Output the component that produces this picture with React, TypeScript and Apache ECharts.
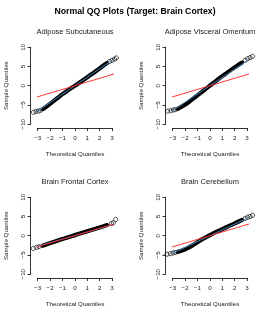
import React, { useEffect, useRef } from "react";
import * as echarts from "echarts";

// ---------- data ----------
const MAIN_TITLE = "Normal QQ Plots (Target: Brain Cortex)";
const PANEL_TITLES = [
  "Adipose Subcutaneous",
  "Adipose Visceral Omentum",
  "Brain Frontal Cortex",
  "Brain Cerebellum",
];
const X_AXIS_NAME = "Theoretical Quantiles";
const Y_AXIS_NAME = "Sample Quantiles";

// theoretical quantiles of the dense central band of points
const BAND_X = [-2.6, -2.2, -1.8, -1.4, -1.0, -0.6, -0.2, 0.2, 0.6, 1.0, 1.4, 1.8, 2.2, 2.6];
// sample quantiles of the band, per panel
const BAND_Y_SUBCUT = [-6.1, -5.2, -4.2, -3.2, -2.2, -1.3, -0.4, 0.4, 1.3, 2.2, 3.1, 4.0, 5.0, 5.9];
const BAND_Y_OMENTUM = [-6.0, -5.3, -4.5, -3.5, -2.5, -1.5, -0.5, 0.5, 1.5, 2.5, 3.4, 4.3, 5.2, 6.0];
const BAND_Y_FRONTAL = [-2.6, -2.15, -1.7, -1.3, -0.85, -0.45, -0.05, 0.35, 0.75, 1.15, 1.55, 1.95, 2.35, 2.75];
const BAND_Y_CEREBELLUM = [-4.2, -3.8, -3.2, -2.5, -1.7, -0.9, -0.2, 0.5, 1.1, 1.7, 2.3, 2.9, 3.5, 4.1];

// separate tail points (open circles)
const TAIL_X_SUBCUT = [-3.35, -3.15, -2.95, -2.78, 2.8, 3.0, 3.2, 3.35];
const TAIL_Y_SUBCUT = [-6.9, -6.7, -6.6, -6.4, 6.3, 6.6, 6.9, 7.2];
const TAIL_X_OMENTUM = [-3.4, -3.15, -2.95, -2.78, 2.85, 3.05, 3.25, 3.45];
const TAIL_Y_OMENTUM = [-6.6, -6.5, -6.3, -6.2, 6.6, 7.0, 7.3, 7.6];
const TAIL_X_FRONTAL = [-3.35, -3.1, -2.9, 2.95, 3.1, 3.3];
const TAIL_Y_FRONTAL = [-3.3, -3.05, -2.85, 3.15, 3.35, 4.2];
const TAIL_X_CEREBELLUM = [-3.45, -3.2, -2.98, -2.8, 2.85, 3.05, 3.25, 3.45];
const TAIL_Y_CEREBELLUM = [-4.8, -4.65, -4.5, -4.35, 4.5, 4.8, 5.0, 5.3];

// qq lines: blue = panel's own line, red = target (Brain Cortex) line
const BLUE_SLOPE = [2.2, 2.15, 0.92, 1.51];
const BLUE_INTERCEPT = [0, 0, 0.05, 0];
const RED_SLOPE = 0.96;
const RED_INTERCEPT = 0;
const LINE_X_RANGE = [-3.58, 3.58];

const X_MIN = -3, X_MAX = 3, X_STEP = 1;
const Y_MIN = -10, Y_MAX = 10, Y_STEP = 5;

const BAND_Y = [BAND_Y_SUBCUT, BAND_Y_OMENTUM, BAND_Y_FRONTAL, BAND_Y_CEREBELLUM];
const TAIL_X = [TAIL_X_SUBCUT, TAIL_X_OMENTUM, TAIL_X_FRONTAL, TAIL_X_CEREBELLUM];
const TAIL_Y = [TAIL_Y_SUBCUT, TAIL_Y_OMENTUM, TAIL_Y_FRONTAL, TAIL_Y_CEREBELLUM];

// ---------- layout ----------
const FONT = "'Liberation Sans', Arial, Helvetica, sans-serif";
const DX = [0, 135, 0, 135];
const DY = [0, 0, 150, 150];
const TEXT = "#1a1a1a";

const minus = (v: number) => String(v).replace("-", "\u2212");

export default function App() {
  const ref = useRef<HTMLDivElement>(null);
  useEffect(() => {
    document.body.style.margin = "0";
    if (!ref.current) return;
    const chart = echarts.init(ref.current, null, { renderer: "svg" });

    const grid: any[] = [];
    const xAxis: any[] = [];
    const yAxis: any[] = [];
    const series: any[] = [];
    const graphic: any[] = [];

    graphic.push({
      type: "text",
      x: 135,
      y: 11,
      style: {
        text: MAIN_TITLE,
        font: `bold 8.7px ${FONT}`,
        fill: "#000",
        textAlign: "center",
        textVerticalAlign: "middle",
      },
    });

    PANEL_TITLES.forEach((title, i) => {
      const dx = DX[i], dy = DY[i];
      grid.push({ left: 37.7 + dx, top: 47.2 + dy, width: 74.3, height: 77 });
      const axisLine = { show: true, onZero: false, lineStyle: { color: "#000", width: 0.8 } };
      const axisTick = { show: true, length: 3, lineStyle: { color: "#000", width: 0.8 } };
      xAxis.push({
        gridIndex: i,
        type: "value",
        min: X_MIN,
        max: X_MAX,
        interval: X_STEP,
        offset: 3.8,
        axisLine,
        axisTick,
        splitLine: { show: false },
        axisLabel: {
          fontSize: 6.2,
          fontFamily: FONT,
          color: TEXT,
          margin: 6,
          showMinLabel: true,
          showMaxLabel: true,
          formatter: (v: number) => minus(v),
        },
      });
      yAxis.push({
        gridIndex: i,
        type: "value",
        min: Y_MIN,
        max: Y_MAX,
        interval: Y_STEP,
        offset: 7.2,
        axisLine,
        axisTick,
        splitLine: { show: false },
        axisLabel: {
          rotate: 90,
          fontSize: 6.2,
          fontFamily: FONT,
          color: TEXT,
          margin: 5,
          showMinLabel: true,
          showMaxLabel: true,
          formatter: (v: number) => minus(v),
        },
      });

      // dense band of points
      series.push({
        type: "line",
        xAxisIndex: i,
        yAxisIndex: i,
        data: BAND_X.map((x, k) => [x, BAND_Y[i][k]]),
        symbol: "none",
        smooth: 0.3,
        clip: false,
        silent: true,
        lineStyle: { color: "#000", width: 4.2, cap: "round", join: "round" },
        z: 2,
      });
      // tail points
      series.push({
        type: "scatter",
        xAxisIndex: i,
        yAxisIndex: i,
        data: TAIL_X[i].map((x, k) => [x, TAIL_Y[i][k]]),
        symbol: "circle",
        symbolSize: 4.2,
        clip: false,
        silent: true,
        itemStyle: { color: "rgba(255,255,255,0)", borderColor: "#000", borderWidth: 0.7, opacity: 1 },
        z: 2,
      });
      // blue qq line
      series.push({
        type: "line",
        xAxisIndex: i,
        yAxisIndex: i,
        data: LINE_X_RANGE.map((x) => [x, BLUE_INTERCEPT[i] + BLUE_SLOPE[i] * x]),
        symbol: "none",
        clip: false,
        silent: true,
        lineStyle: { color: "#4682B4", width: 1 },
        z: 3,
      });
      // red target line
      series.push({
        type: "line",
        xAxisIndex: i,
        yAxisIndex: i,
        data: LINE_X_RANGE.map((x) => [x, RED_INTERCEPT + RED_SLOPE * x]),
        symbol: "none",
        clip: false,
        silent: true,
        lineStyle: { color: "#FF2020", width: 0.9 },
        z: 4,
      });

      graphic.push({
        type: "text",
        x: 75 + dx,
        y: 31.7 + dy,
        style: {
          text: title,
          font: `7.5px ${FONT}`,
          fill: TEXT,
          textAlign: "center",
          textVerticalAlign: "middle",
        },
      });
      graphic.push({
        type: "text",
        x: 75 + dx,
        y: 153.7 + dy,
        style: {
          text: X_AXIS_NAME,
          font: `6.2px ${FONT}`,
          fill: TEXT,
          textAlign: "center",
          textVerticalAlign: "middle",
        },
      });
      graphic.push({
        type: "text",
        x: 5.5 + dx,
        y: 85.7 + dy,
        rotation: Math.PI / 2,
        style: {
          text: Y_AXIS_NAME,
          font: `6.2px ${FONT}`,
          fill: TEXT,
          textAlign: "center",
          textVerticalAlign: "middle",
        },
      });
    });

    chart.setOption({
      animation: false,
      backgroundColor: "#fff",
      grid,
      xAxis,
      yAxis,
      series,
      graphic,
    });
    return () => chart.dispose();
  }, []);
  return <div ref={ref} style={{ width: 270, height: 315, willChange: "transform" }} />;
}
